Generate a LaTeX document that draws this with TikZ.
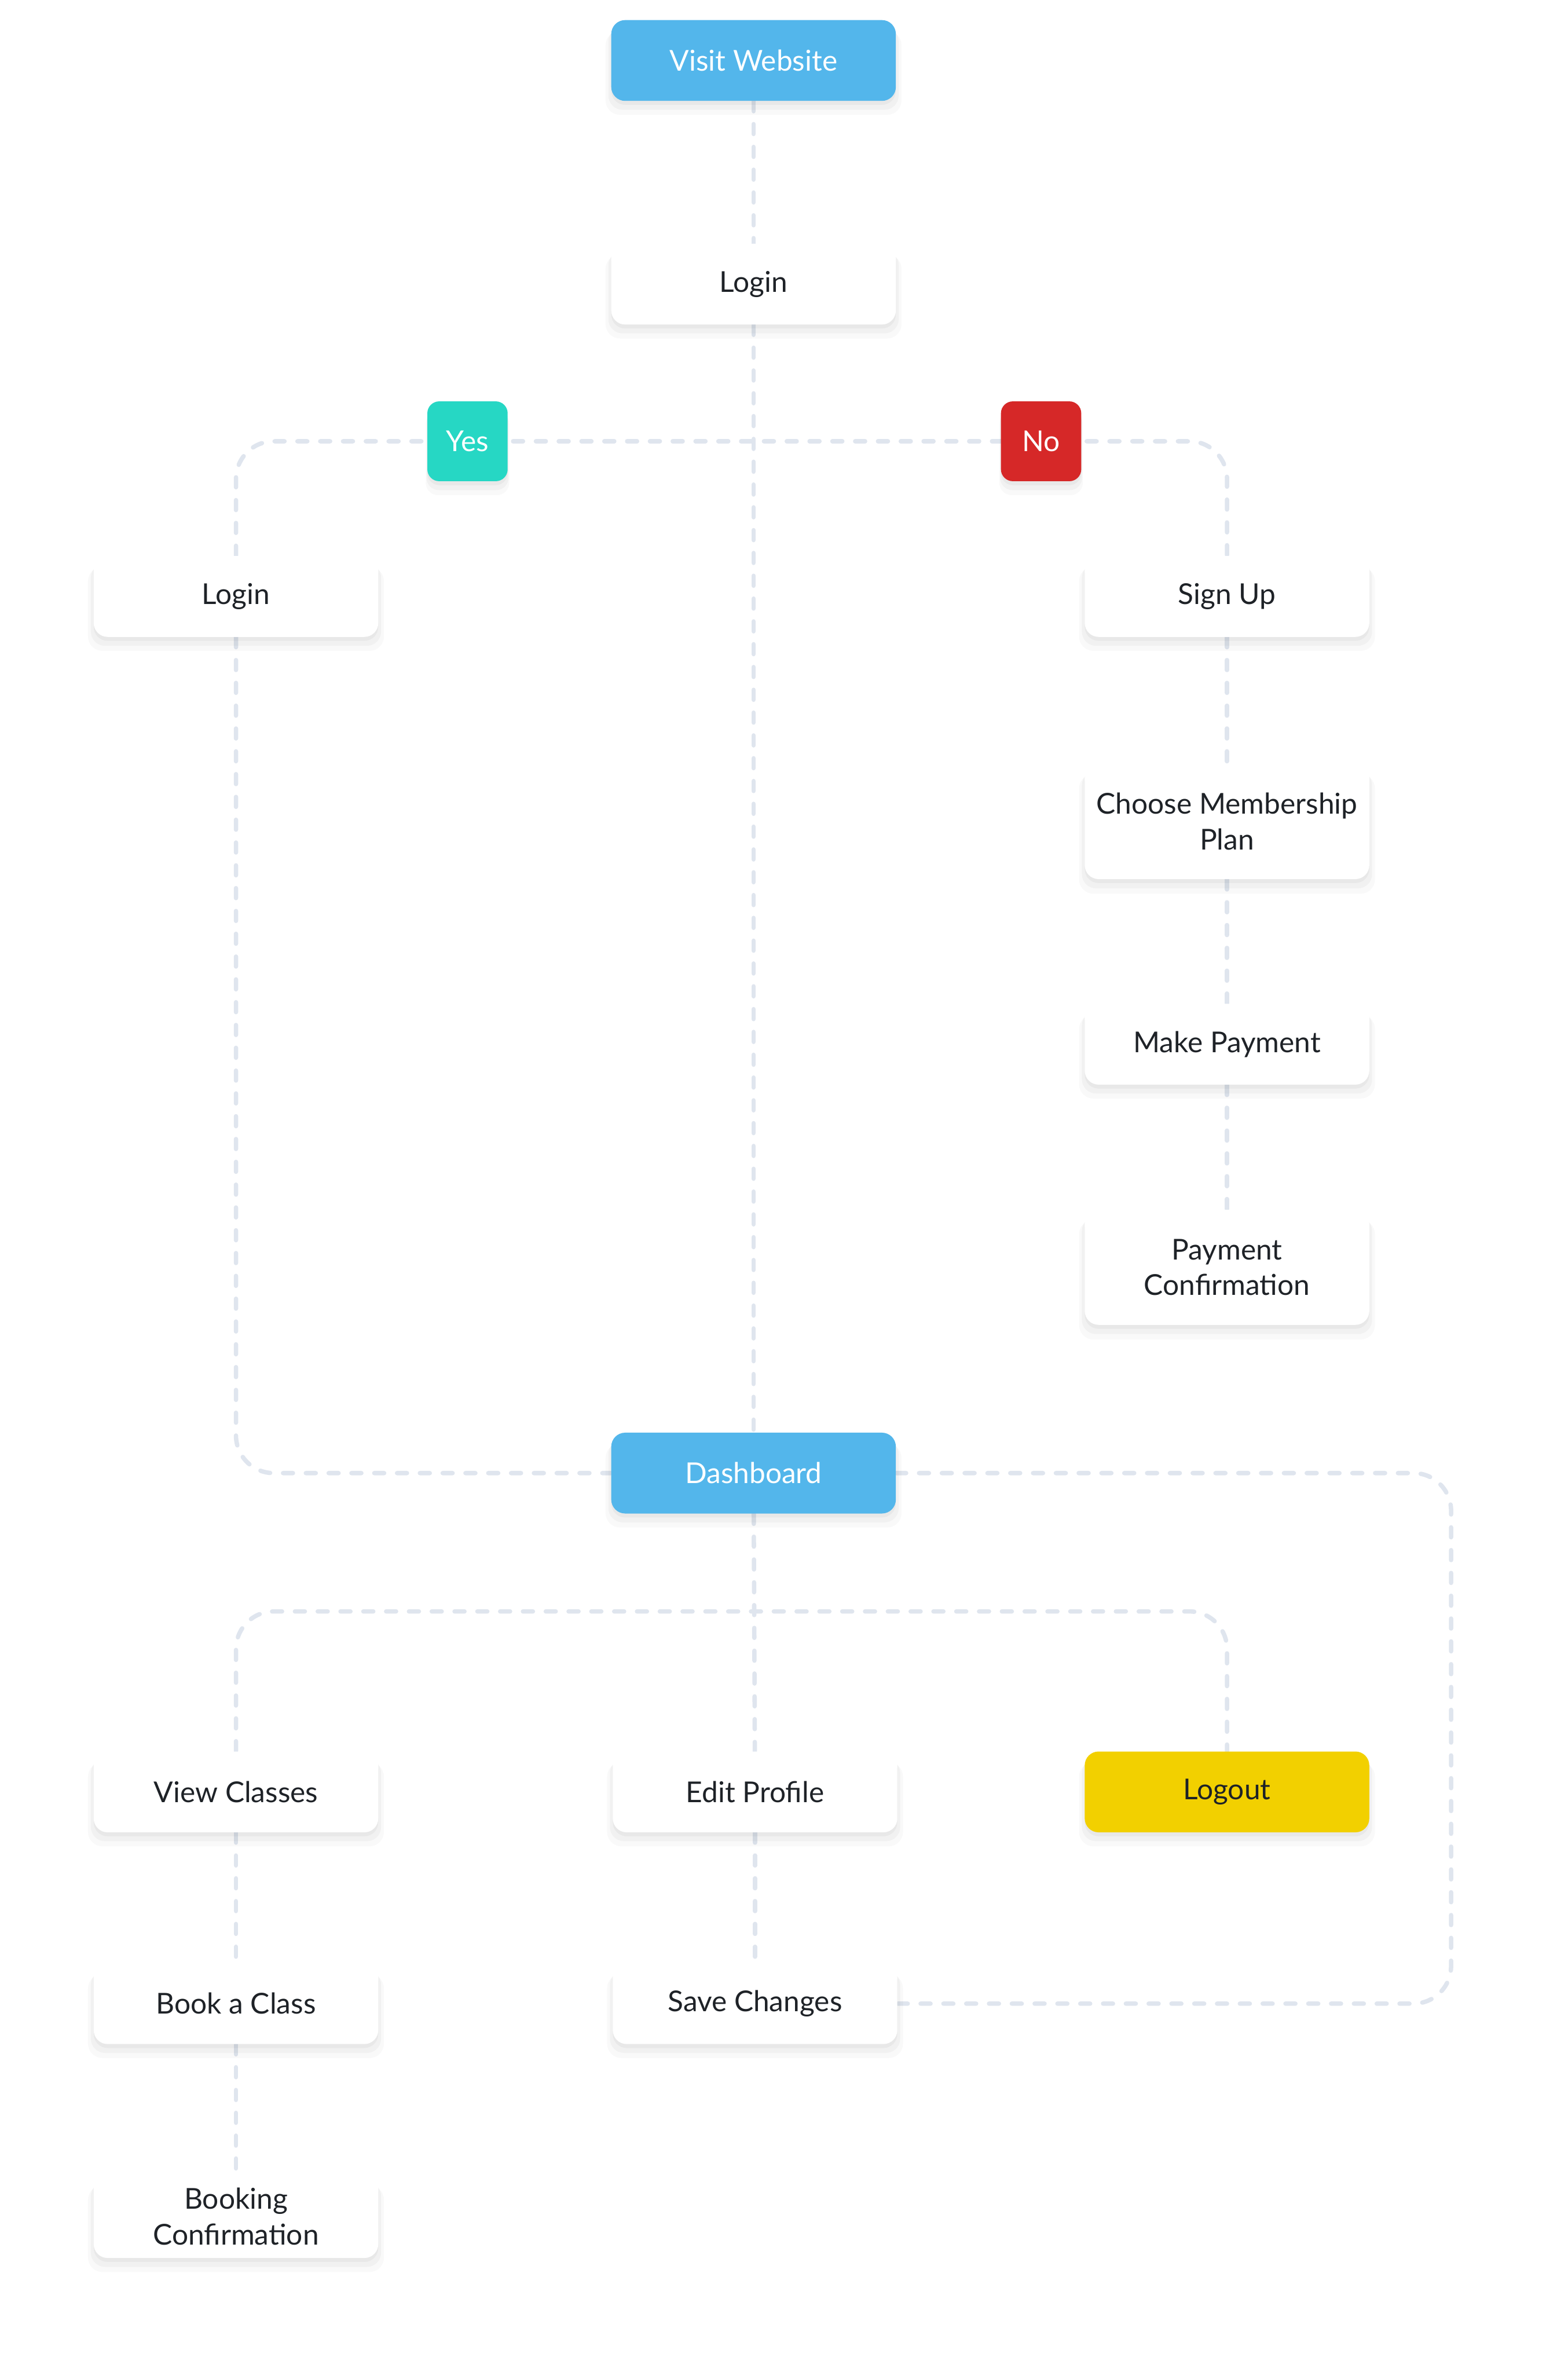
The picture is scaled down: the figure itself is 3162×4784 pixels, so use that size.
\documentclass[tikz,border=0pt]{standalone}
\usepackage{fontspec}
\setmainfont{Lato}
\usetikzlibrary{backgrounds,shadows}
\definecolor{linec}{HTML}{DFE5EE}
\definecolor{blueb}{HTML}{53B6EB}
\definecolor{tealb}{HTML}{26D7C4}
\definecolor{redb}{HTML}{D62828}
\definecolor{yellowb}{HTML}{F2D000}
\definecolor{txt}{HTML}{1E2227}
\tikzset{
  softshadow/.style={
    drop shadow={shadow xshift=0pt, shadow yshift=-6pt, shadow scale=1.04, opacity=0.025, fill=black},
    drop shadow={shadow xshift=0pt, shadow yshift=-4pt, shadow scale=1.02, opacity=0.03, fill=black},
    drop shadow={shadow xshift=0pt, shadow yshift=-2pt, opacity=0.035, fill=black}},
  box/.style={rounded corners=7pt, minimum width=143.5pt, minimum height=40.75pt,
    align=center, font=\fontsize{14.5}{18}\selectfont, inner sep=2pt, softshadow},
  whitebox/.style={box, fill=white, text=txt},
  bluebox/.style={box, fill=blueb, text=white},
  yellowbox/.style={box, fill=yellowb, text=txt},
  tallbox/.style={whitebox, minimum height=58pt},
  tag/.style={rounded corners=6pt, minimum width=40.5pt, minimum height=40.25pt,
    font=\fontsize{14.5}{18}\selectfont, text=white, inner sep=1pt, softshadow},
  conn/.style={draw=linec, line width=2.2pt, line cap=round, dash pattern=on 5pt off 6.5pt, rounded corners=19pt}
}
\begin{document}
\begin{tikzpicture}[x={(0.25pt,0)}, y={(0,-0.25pt)}]
\useasboundingbox (0,0) rectangle (3162,4784);
% nodes
\node[bluebox] (vw) at (1520,122) {Visit Website};
\node[whitebox] (login) at (1520,573) {Login};
\node[tag, fill=tealb] (yes) at (943,890) {Yes};
\node[tag, fill=redb] (no) at (2100,890) {No};
\node[whitebox] (loginL) at (476,1203) {Login};
\node[whitebox] (signup) at (2475,1203) {Sign Up};
\node[tallbox] (choose) at (2475,1657) {Choose Membership\\Plan};
\node[whitebox] (pay) at (2475,2106) {Make Payment};
\node[tallbox] (payconf) at (2475,2556) {Payment\\Confirmation};
\node[bluebox] (dash) at (1520,2971) {Dashboard};
\node[whitebox] (view) at (476,3614) {View Classes};
\node[whitebox] (edit) at (1523,3614) {Edit Profile};
\node[yellowbox] (logout) at (2475,3614) {Logout};
\node[whitebox] (book) at (476,4041) {Book a Class};
\node[whitebox] (save) at (1523,4041) {Save Changes};
\node[whitebox, minimum height=42pt] (bookconf) at (476,4470) {Booking\\Confirmation};
\coordinate (rt) at (2927,3500);
\coordinate (split) at (1520,3250);
% connectors
\begin{pgfonlayer}{background}
\fill[white] (0,0) rectangle (3162,4784);
\draw[conn] (vw) -- (login);
\draw[conn] (login) -- (dash);
\draw[conn] (loginL.north) |- (yes.center);
\draw[conn] (yes.center) -- (no.center);
\draw[conn] (no.center) -| (signup.north);
\draw[conn] (loginL.south) |- (dash.west);
\draw[conn] (signup) -- (choose);
\draw[conn] (choose) -- (pay);
\draw[conn] (pay) -- (payconf);
\draw[conn] (dash.east) -| (rt) |- (save.east);
\draw[conn] (dash) -- (edit);
\draw[conn] (edit) -- (save);
\draw[conn] (view.north) |- (split) -| (logout.north);
\draw[conn] (view) -- (book);
\draw[conn] (book) -- (bookconf);
\end{pgfonlayer}
\end{tikzpicture}
\end{document}
